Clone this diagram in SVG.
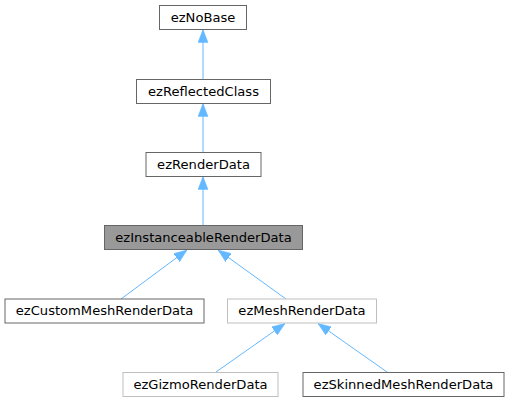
<svg xmlns="http://www.w3.org/2000/svg" width="509" height="403" viewBox="0 0 509 403">
<defs>
<marker id="ah" viewBox="0 0 13 10" refX="13" refY="5" markerWidth="13" markerHeight="10" markerUnits="userSpaceOnUse" orient="auto">
<polygon points="0,0 13,5 0,10" fill="#63b8ff" stroke="#63b8ff" stroke-width="0.5"/>
</marker>
</defs>
<style>
.n rect{fill:#fff;stroke:#666;stroke-width:1}
.n.g rect{stroke:#bfbfbf}
.n.s rect{fill:#999;stroke:#666}
.n text{font-family:"DejaVu Sans",sans-serif;font-size:13.1px;fill:#000;text-anchor:middle}
.e line{stroke:#63b8ff;stroke-width:1;marker-end:url(#ah)}
</style>
<rect width="509" height="403" fill="#fff"/>
<g id="edges" class="e">
<line x1="203" y1="79.5" x2="203" y2="29.5"/>
<line x1="203" y1="152" x2="203" y2="103.5"/>
<line x1="203" y1="225.5" x2="203" y2="176.5"/>
<line x1="121" y1="299" x2="187" y2="250"/>
<line x1="286" y1="299" x2="218" y2="250"/>
<line x1="216" y1="372" x2="285" y2="323.5"/>
<line x1="387" y1="372" x2="318" y2="323.5"/>
</g>
<g id="ezNoBase" class="n"><rect x="159.5" y="5.5" width="87" height="24"/><text x="203" y="21.5">ezNoBase</text></g>
<g id="ezReflectedClass" class="n"><rect x="136.5" y="79.5" width="134" height="24"/><text x="203.5" y="95.5">ezReflectedClass</text></g>
<g id="ezRenderData" class="n"><rect x="146" y="152.5" width="115" height="24"/><text x="203.5" y="168.5">ezRenderData</text></g>
<g id="ezInstanceableRenderData" class="n s"><rect x="104.5" y="225.5" width="198" height="24"/><text x="203.5" y="241.5">ezInstanceableRenderData</text></g>
<g id="ezCustomMeshRenderData" class="n"><rect x="5" y="299" width="199" height="24"/><text x="104.5" y="315">ezCustomMeshRenderData</text></g>
<g id="ezMeshRenderData" class="n g"><rect x="227.5" y="299" width="149" height="24"/><text x="302" y="315">ezMeshRenderData</text></g>
<g id="ezGizmoRenderData" class="n g"><rect x="123" y="372.5" width="155" height="24"/><text x="200.5" y="388.5">ezGizmoRenderData</text></g>
<g id="ezSkinnedMeshRenderData" class="n"><rect x="303" y="372.5" width="201" height="24"/><text x="403.5" y="388.5">ezSkinnedMeshRenderData</text></g>
</svg>
